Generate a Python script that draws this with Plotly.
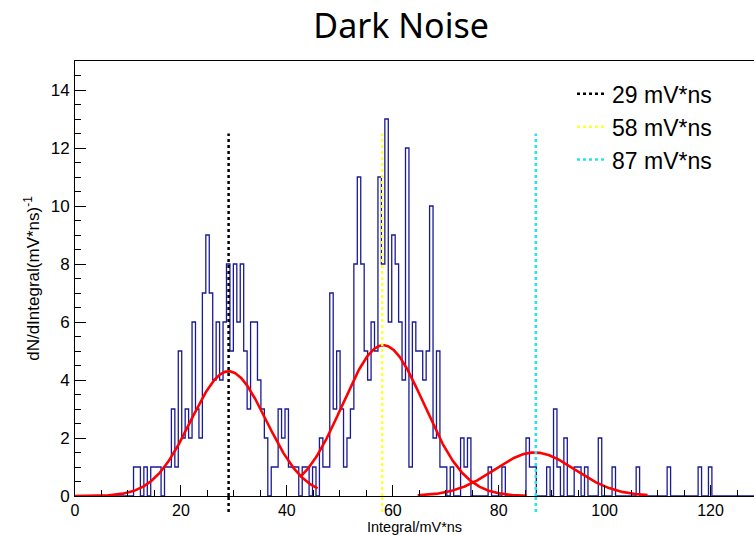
import numpy as np
import plotly.graph_objects as go

# ---------------- data ----------------
bin_width = 0.65          # mV*ns per bin (200 bins on 0..130)
n_bins = 200
counts = [
    0, 0, 0, 0, 0, 0, 0, 0, 0, 0,      # 0-9
    0, 0, 0, 0, 0, 0, 0, 1, 1, 0,      # 10-19
    1, 0, 1, 1, 1, 0, 1, 1, 3, 1,      # 20-29
    5, 2, 3, 2, 6, 3, 2, 7, 9, 7,      # 30-39
    4, 6, 4, 6, 8, 5, 8, 6, 8, 5,      # 40-49
    3, 6, 6, 4, 3, 2, 0, 1, 1, 3,      # 50-59
    2, 3, 1, 1, 1, 0, 1, 1, 0, 1,      # 60-69
    0, 2, 1, 1, 7, 3, 5, 3, 1, 2,      # 70-79
    3, 8, 11, 8, 5, 4, 6, 5, 11, 8,    # 80-89
    13, 6, 9, 8, 6, 4, 12, 1, 6, 5,    # 90-99
    5, 4, 5, 10, 2, 5, 1, 1, 0, 1,     # 100-109
    0, 0, 2, 1, 2, 0, 0, 0, 0, 0,      # 110-119
    1, 0, 0, 0, 1, 0, 0, 0, 0, 0,      # 120-129
    0, 2, 1, 1, 0, 0, 0, 1, 0, 3,      # 130-139
    1, 0, 2, 0, 0, 1, 1, 0, 1, 0,      # 140-149
    0, 0, 2, 0, 0, 0, 1, 0, 0, 0,      # 150-159
    0, 0, 0, 1, 0, 0, 0, 0, 0, 0,      # 160-169
    0, 0, 1, 0, 0, 0, 0, 0, 0, 0,      # 170-179
    0, 1, 0, 0, 1, 0, 0, 0, 0, 0,      # 180-189
    0, 0, 0, 0, 0, 0, 0, 0, 0, 0,      # 190-199
]

# Gaussian fits (amplitude, mean, sigma, fit range)
fit_amps = [4.3, 5.2, 1.5]
fit_means = [29.0, 58.2, 86.8]
fit_sigmas = [7.1, 7.7, 7.6]
fit_lo = [0.0, 42.5, 64.7]
fit_hi = [45.8, 85.3, 108.1]

# Peak markers
peak_pos = [29, 58, 87]
peak_names = ["29 mV*ns", "58 mV*ns", "87 mV*ns"]
peak_colors = ["#000000", "#ffff33", "#22e5f0"]
marker_top = 12.5
marker_bottom = -0.55

x_range = [0, 128.2]
y_range = [0, 15]
x_title = "Integral/mV*ns"
y_title = "dN/dIntegral(mV*ns)<sup>-1</sup>"

# ---------------- figure ----------------
FONT = "Liberation Sans, Arial, Helvetica, sans-serif"
fig = go.Figure()

edges = np.arange(n_bins + 1) * bin_width
fig.add_trace(go.Scatter(
    x=edges, y=counts + [counts[-1]], mode="lines", line_shape="hv",
    line=dict(color="#1a1a99", width=1.3), showlegend=False, hoverinfo="skip"))

for a, m, s, lo, hi in zip(fit_amps, fit_means, fit_sigmas, fit_lo, fit_hi):
    xs = np.linspace(lo, hi, 300)
    ys = a * np.exp(-0.5 * ((xs - m) / s) ** 2)
    fig.add_trace(go.Scatter(x=xs, y=ys, mode="lines",
                             line=dict(color="#ff0000", width=2.6),
                             showlegend=False, hoverinfo="skip"))

for p, name, c in zip(peak_pos, peak_names, peak_colors):
    fig.add_trace(go.Scatter(x=[p, p], y=[0, marker_top], mode="lines", name=name,
                             line=dict(color=c, width=2.5, dash="dot")))
    # short piece below the axis
    fig.add_shape(type="line", xref="x", yref="paper", x0=p, x1=p,
                  y0=(marker_bottom - y_range[0]) / (y_range[1] - y_range[0]), y1=0,
                  line=dict(color=c, width=2.5, dash="dot"), layer="above")

# x-axis title placed just under the tick labels
fig.add_annotation(text=x_title, xref="paper", yref="paper", x=0.5, y=-0.0713,
                   xanchor="center", yanchor="middle", showarrow=False,
                   font=dict(family=FONT, size=14.5, color="black"))

axis_common = dict(showline=True, linecolor="black", linewidth=1, mirror=True,
                   ticks="inside", ticklen=11, tickwidth=1, tickcolor="black",
                   showgrid=False, zeroline=False)

fig.update_layout(
    width=754, height=535, autosize=False,
    margin=dict(l=75, r=0, t=61, b=39),
    paper_bgcolor="white", plot_bgcolor="white",
    title=dict(text="Dark Noise", x=0.532, xanchor="center", y=0.952, yanchor="middle",
               font=dict(family="Noto Sans, Open Sans, sans-serif", size=34, color="black")),
    xaxis=dict(range=x_range, tick0=0, dtick=20,
               minor=dict(ticks="inside", ticklen=6, dtick=5, tickcolor="black"),
               ticklabelstandoff=0,
               tickfont=dict(family=FONT, size=16, color="black"),
               **axis_common),
    yaxis=dict(range=y_range, tick0=0, dtick=2,
               minor=dict(ticks="inside", ticklen=6, dtick=0.5, tickcolor="black"),
               ticklabelstandoff=1,
               tickfont=dict(family=FONT, size=17, color="black"),
               title=dict(text=y_title, standoff=6,
                          font=dict(family=FONT, size=17, color="black")),
               **axis_common),
    legend=dict(x=0.732, y=0.974, xanchor="left", yanchor="top",
                bgcolor="rgba(0,0,0,0)", itemwidth=30, tracegroupgap=0,
                font=dict(family=FONT, size=23, color="black")),
    showlegend=True,
)

fig.write_html("out.html")
